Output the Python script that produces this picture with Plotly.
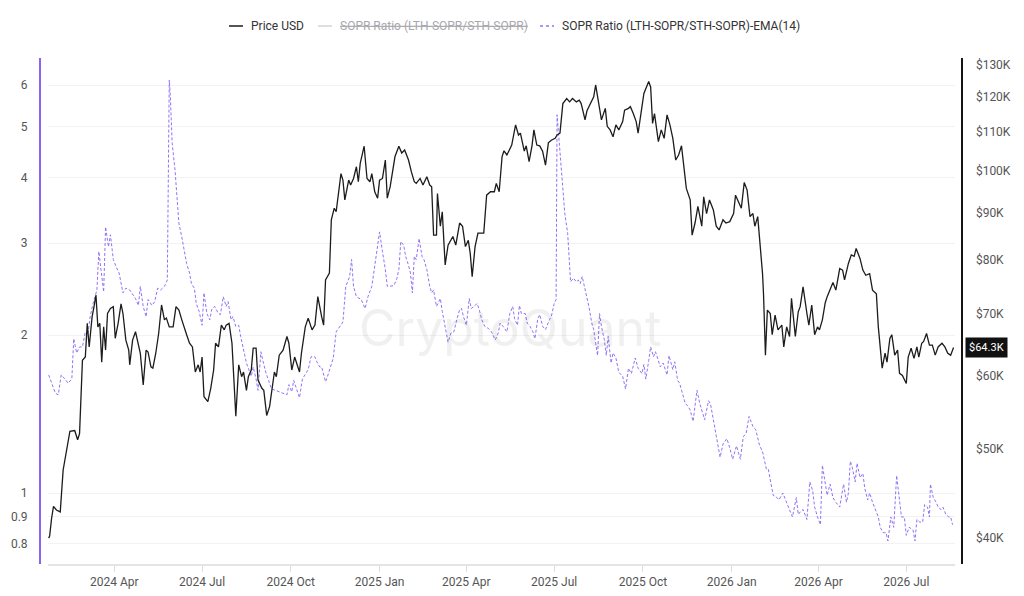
import math
import pandas as pd
import plotly.graph_objects as go

start = pd.Timestamp("2024-01-01")

# days since 2024-01-01 / price in thousands of USD
price_days = [23, 24, 26, 28, 31, 35, 38, 42, 45, 50, 53, 55, 58, 61, 63, 65, 68, 70, 72, 74,
              76, 78, 80, 82, 84, 87, 90, 92, 95, 98, 100, 103, 106, 107, 110, 113, 116, 118, 121, 124,
              126, 129, 131, 134, 137, 140, 143, 145, 148, 152, 155, 158, 161, 163, 166, 169, 172, 175, 178, 180,
              182, 184, 188, 191, 194, 196, 199, 202, 205, 207, 210, 213, 215, 217, 220, 223, 225, 228, 230, 233,
              235, 238, 240, 244, 246, 249, 252, 254, 257, 259, 262, 266, 270, 272, 275, 278, 283, 285, 289, 292,
              296, 299, 302, 306, 308, 310, 314, 316, 319, 321, 326, 328, 330, 334, 336, 339, 342, 344, 346, 350,
              353, 356, 358, 361, 364, 366, 369, 372, 374, 377, 380, 382, 386, 389, 392, 396, 399, 402, 404, 408,
              411, 415, 418, 420, 422, 425, 426, 429, 431, 433, 434, 437, 439, 442, 445, 449, 452, 455, 458, 460,
              462, 465, 468, 474, 477, 481, 485, 487, 490, 493, 495, 498, 503, 507, 510, 512, 516, 518, 521, 524,
              526, 529, 532, 535, 538, 541, 544, 548, 550, 553, 556, 560, 563, 566, 570, 573, 575, 579, 581, 584,
              588, 590, 593, 596, 600, 602, 605, 608, 611, 614, 618, 620, 624, 626, 629, 632, 634, 637, 640, 645,
              647, 649, 651, 655, 658, 661, 664, 667, 670, 673, 676, 679, 682, 684, 688, 690, 693, 696, 700, 702,
              705, 708, 712, 715, 718, 722, 725, 729, 733, 735, 741, 744, 747, 750, 753, 755, 758, 760, 763, 764,
              766, 768, 771, 773, 776, 779, 783, 785, 788, 791, 793, 797, 800, 802, 805, 809, 811, 814, 817, 820,
              822, 825, 828, 830, 833, 836, 839, 843, 846, 848, 852, 855, 858, 860, 864, 867, 870, 874, 877, 881,
              883, 885, 887, 890, 892, 895, 897, 900, 903, 905, 908, 912, 914, 917, 920, 923, 925, 928, 930, 933,
              936, 939, 942, 945, 949, 952, 955, 958, 961]
price_k = [40.0, 40.2, 42.0, 43.3, 42.9, 42.7, 47.4, 50.0, 52.2, 52.3, 51.1, 51.9, 62.3, 62.8, 68.3, 64.4, 69.4, 71.2, 73.3, 67.7,
           68.3, 62.0, 67.7, 63.9, 70.0, 70.9, 71.2, 65.8, 68.3, 71.7, 70.0, 65.5, 63.9, 61.6, 65.5, 66.9, 64.4, 63.4, 58.6, 63.9,
           63.6, 61.3, 61.1, 63.4, 66.6, 71.5, 68.9, 69.2, 67.7, 67.7, 71.2, 70.6, 68.9, 67.7, 66.4, 65.0, 64.4, 60.5, 61.6, 60.5,
           62.8, 56.9, 56.2, 58.1, 60.8, 65.0, 64.4, 68.0, 67.2, 68.0, 68.3, 65.0, 58.3, 54.2, 61.6, 59.8, 60.5, 57.8, 59.8, 60.8,
           64.2, 64.2, 59.3, 58.1, 57.8, 54.3, 55.5, 57.8, 60.5, 59.8, 63.1, 63.9, 66.1, 65.0, 60.8, 62.8, 60.5, 63.4, 67.7, 69.2,
           67.2, 68.0, 73.0, 69.4, 68.0, 76.1, 77.4, 88.4, 91.0, 90.2, 99.2, 97.6, 92.9, 97.6, 96.4, 98.0, 100.9, 97.2, 101.8, 106.2,
           98.0, 97.2, 99.2, 94.8, 93.3, 97.6, 98.0, 102.6, 93.3, 96.0, 100.1, 103.5, 106.2, 104.4, 105.2, 102.6, 99.6, 97.2, 96.8, 98.0,
           96.4, 98.4, 96.4, 96.0, 85.1, 85.1, 94.4, 87.0, 90.2, 84.0, 79.0, 83.0, 83.7, 84.8, 83.0, 87.7, 87.0, 82.7, 84.0, 81.3,
           76.7, 82.7, 85.5, 85.5, 94.0, 94.8, 94.8, 96.8, 94.8, 103.5, 105.0, 103.9, 106.5, 112.0, 109.2, 109.7, 104.9, 106.3, 102.2, 106.3,
           110.6, 106.5, 106.3, 104.9, 101.3, 107.1, 107.8, 108.3, 109.2, 109.7, 118.1, 119.6, 118.6, 119.6, 118.6, 119.1, 118.1, 113.4, 116.0, 117.7,
           120.1, 123.7, 118.1, 113.4, 116.7, 111.6, 110.6, 108.7, 112.0, 110.6, 112.9, 116.2, 116.7, 117.2, 115.2, 112.9, 109.7, 115.2, 121.1, 124.8,
           123.1, 112.4, 115.2, 107.4, 110.6, 108.3, 114.8, 112.0, 108.3, 102.6, 103.9, 106.3, 100.1, 95.6, 92.9, 85.1, 87.7, 91.4, 87.0, 93.6,
           89.8, 92.9, 90.6, 87.0, 86.2, 88.4, 87.7, 88.0, 89.8, 94.0, 91.0, 97.0, 95.2, 89.1, 89.8, 87.0, 89.1, 84.8, 77.3, 73.5,
           63.1, 70.6, 70.0, 66.4, 69.7, 67.2, 68.0, 64.4, 67.7, 66.1, 72.7, 66.1, 70.3, 71.2, 74.8, 70.0, 68.0, 71.5, 66.4, 67.7,
           67.2, 68.9, 71.9, 73.0, 74.2, 75.6, 74.2, 78.3, 78.0, 76.1, 79.3, 81.0, 80.7, 82.3, 80.3, 78.0, 77.0, 77.3, 74.2, 73.5,
           67.7, 63.9, 61.1, 63.4, 62.0, 65.8, 66.4, 63.1, 63.9, 60.3, 60.0, 58.8, 62.8, 64.2, 62.6, 64.4, 62.8, 65.0, 65.3, 66.6,
           64.7, 64.7, 63.1, 64.4, 65.0, 64.4, 63.4, 63.1, 64.3]

# days since 2024-01-01 / SOPR ratio EMA(14)
sopr_days = [23, 26, 30, 33, 36, 40, 43, 47, 49, 52, 55, 58, 61, 64, 66, 69, 73, 75, 78, 80,
             82, 85, 87, 90, 93, 96, 100, 103, 107, 110, 113, 116, 118, 121, 124, 126, 130, 133, 136, 139,
             143, 146, 148, 149, 151, 154, 156, 158, 161, 163, 166, 169, 171, 174, 176, 179, 182, 184, 187, 190,
             192, 195, 199, 201, 204, 207, 209, 212, 214, 217, 220, 222, 225, 228, 230, 233, 235, 238, 240, 243,
             245, 248, 251, 254, 258, 262, 266, 270, 272, 275, 277, 280, 283, 286, 290, 292, 295, 299, 301, 304,
             306, 308, 310, 313, 315, 318, 321, 325, 328, 331, 335, 337, 339, 342, 345, 347, 351, 354, 358, 360,
             363, 366, 369, 372, 374, 377, 381, 384, 386, 388, 391, 393, 396, 398, 400, 402, 404, 407, 410, 412,
             415, 418, 420, 422, 425, 429, 431, 434, 437, 440, 443, 446, 449, 451, 453, 456, 459, 461, 464, 467,
             469, 472, 475, 479, 482, 486, 489, 491, 494, 498, 501, 504, 506, 509, 511, 513, 517, 519, 522, 525,
             527, 530, 532, 535, 538, 542, 544, 547, 549, 550, 552, 554, 556, 558, 561, 563, 564, 567, 570, 572,
             574, 576, 579, 581, 583, 586, 588, 590, 592, 594, 596, 599, 601, 603, 606, 608, 611, 614, 618, 621,
             624, 627, 631, 634, 638, 640, 642, 645, 647, 650, 652, 655, 657, 660, 664, 666, 670, 672, 675, 677,
             680, 683, 685, 688, 691, 695, 698, 701, 703, 707, 709, 712, 715, 719, 722, 726, 729, 732, 736, 740,
             743, 746, 749, 753, 756, 760, 763, 767, 769, 771, 774, 778, 780, 784, 787, 791, 794, 798, 800, 802,
             805, 809, 812, 815, 817, 820, 823, 825, 828, 830, 833, 836, 839, 843, 847, 850, 852, 854, 856, 859,
             861, 864, 867, 869, 872, 874, 877, 881, 883, 885, 888, 891, 893, 896, 899, 902, 905, 907, 910, 912,
             915, 919, 921, 923, 926, 929, 931, 934, 936, 937, 940, 943, 945, 948, 950, 953, 956, 958, 960]
sopr_ema = [1.68, 1.62, 1.55, 1.54, 1.68, 1.65, 1.62, 1.65, 1.97, 1.85, 1.90, 1.90, 2.03, 2.03, 2.17, 2.30, 2.44, 2.89, 2.55, 2.42,
            3.22, 2.95, 3.11, 2.79, 2.70, 2.63, 2.41, 2.46, 2.44, 2.39, 2.35, 2.28, 2.48, 2.27, 2.17, 2.34, 2.28, 2.32, 2.46, 2.44,
            2.48, 2.55, 6.14, 5.79, 4.65, 4.13, 3.62, 3.27, 3.08, 2.95, 2.74, 2.63, 2.51, 2.46, 2.30, 2.22, 2.09, 2.41, 2.20, 2.14,
            2.24, 2.27, 2.20, 2.19, 2.37, 2.27, 2.32, 2.14, 2.17, 2.08, 2.09, 1.99, 1.87, 1.77, 1.73, 1.67, 1.74, 1.65, 1.57, 1.86,
            1.79, 1.70, 1.64, 1.58, 1.57, 1.56, 1.55, 1.54, 1.61, 1.56, 1.64, 1.57, 1.52, 1.65, 1.69, 1.72, 1.82, 1.82, 1.78, 1.74,
            1.74, 1.69, 1.63, 1.69, 1.74, 1.81, 2.03, 2.08, 2.12, 2.48, 2.59, 2.79, 2.48, 2.37, 2.35, 2.34, 2.25, 2.37, 2.48, 2.63,
            2.89, 3.15, 2.89, 2.67, 2.48, 2.48, 2.49, 2.57, 2.67, 3.02, 2.97, 2.83, 2.72, 2.63, 2.41, 2.83, 2.79, 3.06, 2.83, 2.79,
            2.67, 2.48, 2.41, 2.44, 2.27, 2.35, 2.22, 2.08, 1.94, 2.02, 2.03, 2.14, 2.24, 2.25, 2.17, 2.09, 2.35, 2.25, 2.27, 2.30,
            2.25, 2.14, 2.08, 2.06, 2.03, 1.96, 2.02, 2.11, 2.08, 2.03, 2.20, 2.27, 2.15, 2.09, 2.28, 2.20, 2.20, 2.11, 2.08, 2.03,
            1.97, 2.15, 2.19, 2.08, 2.05, 2.14, 2.17, 2.30, 2.34, 5.27, 4.72, 4.13, 3.73, 3.42, 3.13, 2.79, 2.53, 2.57, 2.53, 2.55,
            2.51, 2.59, 2.44, 2.37, 2.27, 2.11, 2.05, 1.93, 1.83, 2.20, 2.08, 1.96, 1.83, 1.99, 1.77, 1.85, 1.81, 1.70, 1.67, 1.58,
            1.73, 1.69, 1.81, 1.73, 1.69, 1.76, 1.65, 1.79, 1.90, 1.82, 1.86, 1.79, 1.74, 1.77, 1.68, 1.83, 1.72, 1.78, 1.64, 1.62,
            1.55, 1.48, 1.47, 1.44, 1.37, 1.57, 1.48, 1.42, 1.38, 1.50, 1.48, 1.38, 1.28, 1.17, 1.24, 1.27, 1.22, 1.16, 1.23, 1.16,
            1.28, 1.30, 1.40, 1.34, 1.32, 1.23, 1.20, 1.11, 1.11, 1.06, 0.99, 0.98, 0.97, 1.00, 0.97, 0.93, 0.90, 0.98, 0.91, 0.92,
            0.93, 0.89, 1.05, 1.01, 0.94, 0.90, 0.87, 1.13, 1.03, 0.99, 1.04, 0.98, 0.96, 0.94, 1.04, 0.96, 1.00, 1.15, 1.12, 1.05,
            1.14, 1.07, 1.09, 1.02, 0.97, 1.00, 0.96, 0.92, 0.90, 0.86, 0.84, 0.84, 0.81, 0.90, 0.86, 1.08, 0.96, 0.90, 0.90, 0.83,
            0.86, 0.85, 0.81, 0.89, 0.88, 0.88, 0.95, 0.94, 0.90, 1.04, 0.98, 0.96, 0.94, 0.93, 0.94, 0.91, 0.90, 0.90, 0.87]

left_ticks = [0.8, 0.9, 1, 2, 3, 4, 5, 6]
right_ticks = [40, 50, 60, 70, 80, 90, 100, 110, 120, 130]
last_price = 64.3

# legend entries: label, colour, dash, text colour, left edge of the sample line (px)
legend_items = [
    ("Price USD", "#1c1c1c", "solid", "#333333", 229),
    ("<s>SOPR Ratio (LTH-SOPR/STH-SOPR)</s>", "#d2d2d8", "solid", "#a8a8ae", 318),
    ("SOPR Ratio (LTH-SOPR/STH-SOPR)-EMA(14)", "#9272f4", "dot", "#333333", 540),
]

FONT = "Roboto, Inter, sans-serif"

# page body has an 8px margin, so the figure is a bit smaller and all
# positions below are measured from that offset
OFF = 8
W, H = 1024 - OFF, 596 - OFF


def px_x(x):
    return (x - OFF) / W


def px_y(y):
    return 1 - (y - OFF) / H


def to_dates(days):
    return [start + pd.Timedelta(days=d) for d in days]


fig = go.Figure()
fig.add_trace(go.Scatter(
    x=to_dates(price_days), y=price_k, name="Price USD", yaxis="y2",
    mode="lines", line=dict(color="#1c1c1c", width=1.3)))
fig.add_trace(go.Scatter(
    x=to_dates(sopr_days), y=sopr_ema, name="SOPR Ratio (LTH-SOPR/STH-SOPR)-EMA(14)",
    mode="lines", line=dict(color="#9272f4", width=1, dash="3px,2px")))

tick_font = dict(family=FONT, size=12, color="#555")

fig.update_layout(
    width=W, height=H,
    margin=dict(l=0, r=0, t=0, b=0),
    paper_bgcolor="white", plot_bgcolor="white",
    font=dict(family=FONT, size=12, color="#333"),
    showlegend=False,
    xaxis=dict(
        type="date", domain=[px_x(48), px_x(955)],
        range=[start + pd.Timedelta(hours=22.3 * 24), start + pd.Timedelta(hours=962.5 * 24)],
        tick0="2024-01-01", dtick="M3", tickformat="%Y %b",
        ticks="outside", ticklen=6, tickcolor="#dcdce0",
        showline=True, linecolor="#e4e4e8", linewidth=2,
        showgrid=False, zeroline=False, tickfont=tick_font, anchor="y"),
    yaxis=dict(
        type="log", range=[-0.1355, 0.8302],
        domain=[px_y(564), px_y(58)], anchor="free", position=px_x(40),
        tickvals=left_ticks, ticktext=[str(v) for v in left_ticks],
        showline=True, linecolor="#8a63f2", linewidth=2,
        showgrid=True, gridcolor="#f2f2f4", gridwidth=1, zeroline=False,
        ticks="", ticklabelstandoff=9, tickfont=tick_font),
    yaxis2=dict(
        type="log", range=[math.log10(37.5), math.log10(132.3)],
        overlaying="y", side="right", anchor="free", position=px_x(961.5),
        tickvals=right_ticks, ticktext=[f"${v}K" for v in right_ticks],
        showline=True, linecolor="#151515", linewidth=2,
        showgrid=False, zeroline=False,
        ticks="", ticklabelstandoff=11, tickfont=tick_font),
)

# compact legend like the source (short sample lines)
for label, color, dash, text_color, x0 in legend_items:
    fig.add_shape(type="line", xref="paper", yref="paper",
                  x0=px_x(x0), x1=px_x(x0 + 14), y0=px_y(26), y1=px_y(26),
                  line=dict(color=color, width=1.5, dash=dash))
    fig.add_annotation(text=label, xref="paper", yref="paper", x=px_x(x0 + 20), y=px_y(26),
                       xanchor="left", yanchor="middle", showarrow=False,
                       font=dict(family=FONT, size=12, color=text_color))

fig.add_annotation(
    text="CryptoQuant", xref="paper", yref="paper", x=px_x(510), y=px_y(328),
    showarrow=False, font=dict(family="Inter, Roboto, sans-serif", size=50, color="rgba(60,60,80,0.08)"))

fig.add_annotation(
    text=f"${last_price}K", xref="paper", yref="y2", x=px_x(965), y=math.log10(last_price),
    xanchor="left", yanchor="middle", showarrow=False, bgcolor="#111111",
    borderpad=3, font=dict(family=FONT, size=11, color="white"))

fig.write_html("out.html")
